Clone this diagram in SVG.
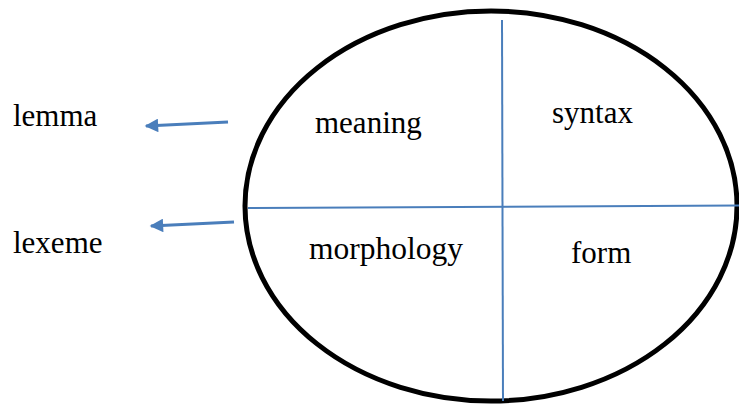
<svg xmlns="http://www.w3.org/2000/svg" width="739" height="404" viewBox="0 0 739 404">
<style>
.t{font-family:"Liberation Serif","Times New Roman",serif;font-size:31px;fill:#000}
.ln{stroke:#4a7ebb;stroke-width:2;fill:none}
.ar{stroke:#4a7ebb;stroke-width:3;fill:none}
</style>
<defs>
<marker id="ah" viewBox="0 0 10 10" refX="9" refY="5" markerWidth="5.5" markerHeight="4.5" orient="auto" markerUnits="strokeWidth">
<path d="M0,0 L10,5 L0,10 z" fill="#4a7ebb"/>
</marker>
</defs>
<g id="circle">
<ellipse cx="491" cy="206" rx="246" ry="195" fill="none" stroke="#000" stroke-width="5"/>
</g>
<g id="dividers">
<line class="ln" x1="502" y1="20" x2="503" y2="401"/>
<line class="ln" x1="248" y1="208" x2="739" y2="205.5"/>
</g>
<g id="connectors">
<line class="ar" x1="228" y1="122" x2="146" y2="126" marker-end="url(#ah)"/>
<line class="ar" x1="234" y1="222" x2="151" y2="226" marker-end="url(#ah)"/>
</g>
<g id="lemma"><text class="t" x="13" y="126">lemma</text></g>
<g id="lexeme"><text class="t" x="13" y="253">lexeme</text></g>
<g id="meaning"><text class="t" x="315" y="133">meaning</text></g>
<g id="syntax"><text class="t" x="552" y="123">syntax</text></g>
<g id="morphology"><text class="t" x="309" y="259" style="font-size:31.5px">morphology</text></g>
<g id="form"><text class="t" x="571" y="263">form</text></g>
</svg>
